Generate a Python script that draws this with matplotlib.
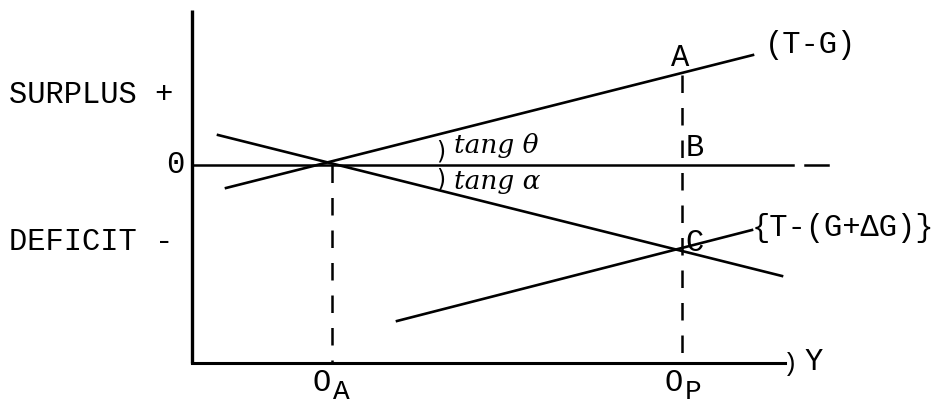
import matplotlib
matplotlib.use("Agg")
import matplotlib.pyplot as plt

# ---- data (national income Y on x, budget balance on y) ----
y_a = 1.40          # O_A : actual income
y_p = 4.90          # O_P : potential income
axis_bottom = -1.98
axis_top = 1.55
axis_right = 5.93

tg_x = [0.34, 5.61]            # (T-G) line
tg_y = [-0.23, 1.10]
fall_x = [0.26, 5.90]          # falling line through O_A and C
fall_y = [0.30, -1.11]
tgd_x = [2.05, 5.60]           # {T-(G+dG)} line
tgd_y = [-1.56, -0.65]
zero_x = [0.0, 6.01]
zero_tail_x = [6.13, 6.36]

point_a = 0.90

fig = plt.figure(figsize=(9.37, 4.08), dpi=100)
ax = fig.add_axes([0, 0, 1, 1])
ax.set_xlim(-1.92, 7.45)
ax.set_ylim(-2.43, 1.65)
ax.axis("off")

k = "black"
# axes
ax.plot([0, 0], [axis_bottom, axis_top], color=k, lw=2.4, solid_capstyle="butt")
ax.plot([0, axis_right], [axis_bottom, axis_bottom], color=k, lw=2.2)
# zero line
ax.plot(zero_x, [0, 0], color=k, lw=1.8)
ax.plot(zero_tail_x, [0, 0], color=k, lw=1.8)
# lines
ax.plot(tg_x, tg_y, color=k, lw=1.9)
ax.plot(fall_x, fall_y, color=k, lw=1.9)
ax.plot(tgd_x, tgd_y, color=k, lw=1.9)
# dashed verticals
ax.plot([y_a, y_a], [0, axis_bottom], color=k, lw=1.8, dashes=(7, 6))
ax.plot([y_p, y_p], [point_a, axis_bottom], color=k, lw=1.8, dashes=(7, 6))

mono = dict(family="Liberation Mono", color=k)
fs = 22
ax.text(-1.83, 0.70, "SURPLUS +", fontsize=fs, ha="left", va="center", **mono)
ax.text(-0.17, 0.0, "0", fontsize=fs, ha="center", va="center", **mono)
ax.text(-1.83, -0.77, "DEFICIT -", fontsize=fs, ha="left", va="center", **mono)
ax.text(5.73, 1.20, "(T-G)", fontsize=fs, ha="left", va="center", **mono)
ax.text(y_p - 0.02, 1.07, "A", fontsize=fs, ha="center", va="center", **mono)
ax.text(y_p + 0.13, 0.17, "B", fontsize=fs, ha="center", va="center", **mono)
ax.text(y_p + 0.13, -0.78, "C", fontsize=fs, ha="center", va="center", **mono)
ax.text(5.60, -0.63, "{T-(G+\u0394G)}", fontsize=fs, ha="left", va="center", **mono)
# O_A / O_P labels
ax.text(y_a - 0.10, -2.18, "O", fontsize=fs, ha="center", va="center", **mono)
ax.text(y_a + 0.09, -2.27, "A", fontsize=20, ha="center", va="center", **mono)
ax.text(y_p - 0.08, -2.18, "O", fontsize=fs, ha="center", va="center", **mono)
ax.text(y_p + 0.11, -2.27, "P", fontsize=20, ha="center", va="center", **mono)
# arrow tip and Y
ax.text(axis_right + 0.05, -1.99, ")", fontsize=18, ha="center", va="center", **mono)
ax.text(6.22, -1.97, "Y", fontsize=fs, ha="center", va="center", **mono)
# angle marks
hand = dict(family="DejaVu Serif", style="italic", color=k)
ax.text(2.49, 0.14, ")", fontsize=17, ha="center", va="center", color=k)
ax.text(2.49, -0.15, ")", fontsize=17, ha="center", va="center", color=k)
ax.text(2.62, 0.19, "tang \u03b8", fontsize=19, ha="left", va="center", **hand)
ax.text(2.62, -0.16, "tang \u03b1", fontsize=19, ha="left", va="center", **hand)

fig.savefig("out.png", dpi=100)
